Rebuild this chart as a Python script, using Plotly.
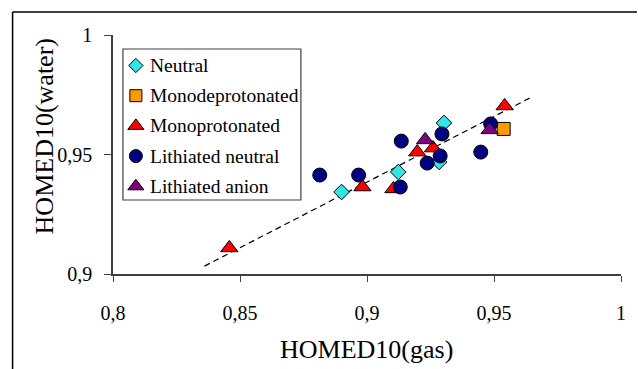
import plotly.graph_objects as go

# HOMED10 aromaticity index: gas phase (x) vs water (y)
neutral_x = [0.8900, 0.9123, 0.9303, 0.9284]
neutral_y = [0.9343, 0.9427, 0.9632, 0.9469]

monodeprot_x = [0.9538]
monodeprot_y = [0.9607]

monoprot_x = [0.8458, 0.8982, 0.9104, 0.9198, 0.9260, 0.9542]
monoprot_y = [0.9109, 0.9364, 0.9356, 0.9510, 0.9527, 0.9703]

li_neutral_x = [0.8814, 0.8967, 0.9135, 0.9131, 0.9295, 0.9237, 0.9288, 0.9448, 0.9487]
li_neutral_y = [0.9414, 0.9414, 0.9556, 0.9364, 0.9586, 0.9464, 0.9494, 0.9510, 0.9628]

li_anion_x = [0.9229, 0.9483]
li_anion_y = [0.9561, 0.9603]

# linear trend line end points
trend_x = [0.836, 0.964]
trend_y = [0.9033, 0.9736]

x_ticks = [0.8, 0.85, 0.9, 0.95, 1.0]
x_tick_text = ["0,8", "0,85", "0,9", "0,95", "1"]
y_ticks = [0.9, 0.95, 1.0]
y_tick_text = ["0,9", "0,95", "1"]

FONT = '"Liberation Serif", "Times New Roman", serif'
OUTLINE = dict(color="black", width=1)
AXIS_COLOR = "#404040"

series = [
    ("Neutral", neutral_x, neutral_y, "diamond", "#33e6e6", 12),
    ("Monodeprotonated", monodeprot_x, monodeprot_y, "square", "#ff9900", 13),
    ("Monoprotonated", monoprot_x, monoprot_y, "triangle-up", "#ff0000", 15),
    ("Lithiated neutral", li_neutral_x, li_neutral_y, "circle", "#000080", 14),
    ("Lithiated anion", li_anion_x, li_anion_y, "triangle-up", "#800080", 15),
]

# page geometry (pixels)
W, H = 638, 369
L, R, T, B = 113, 14, 35, 95
pw, ph = W - L - R, H - T - B


def px_x(p):
    return (p - L) / pw


def px_y(p):
    return (H - B - p) / ph


fig = go.Figure()

fig.add_trace(go.Scatter(
    x=trend_x, y=trend_y, mode="lines", showlegend=False,
    line=dict(color="black", width=1.2, dash="6px,4px"), hoverinfo="skip"))

for name, xs, ys, sym, col, size in series:
    fig.add_trace(go.Scatter(
        x=xs, y=ys, mode="markers", name=name, showlegend=False,
        marker=dict(symbol=sym, color=col, size=size, opacity=1,
                    line=OUTLINE)))

# boxed key in the upper-left corner of the plot area, laid out on a
# hidden pixel-unit overlay axis so the swatches sit beside their labels
KEY_LEFT, KEY_TOP, KEY_RIGHT, KEY_BOTTOM = 123, 49, 302, 200
KEY_ROW0, KEY_STEP = 65.5, 30.2
KEY_SWATCH_DX, KEY_TEXT_DX = 13, 25

key_rows = [KEY_ROW0 + i * KEY_STEP for i in range(len(series))]
fig.add_trace(go.Scatter(
    x=[KEY_LEFT + KEY_SWATCH_DX] * len(series), y=key_rows,
    xaxis="x2", yaxis="y2", mode="markers", showlegend=False,
    hoverinfo="skip",
    marker=dict(symbol=[s[3] for s in series], color=[s[4] for s in series],
                size=[s[5] - 1 for s in series], opacity=1, line=OUTLINE)))

annotations = [
    dict(text=name, x=px_x(KEY_LEFT + KEY_TEXT_DX), y=px_y(row),
         xref="paper", yref="paper", showarrow=False, xanchor="left",
         yanchor="middle", font=dict(family=FONT, size=19.5))
    for (name, *_), row in zip(series, key_rows)
]
annotations += [
    dict(text="HOMED10(gas)", x=px_x(368), y=px_y(349), xref="paper",
         yref="paper", showarrow=False, xanchor="center",
         yanchor="middle", font=dict(family=FONT, size=26)),
    dict(text="HOMED10(water)", x=px_x(44), y=px_y(136), xref="paper",
         yref="paper", showarrow=False, textangle=-90, xanchor="center",
         yanchor="middle", font=dict(family=FONT, size=26)),
]

axis_common = dict(
    showgrid=False, zeroline=False, showline=True, linecolor=AXIS_COLOR,
    linewidth=1.5, ticks="outside", tickcolor=AXIS_COLOR, tickwidth=1.2,
    tickfont=dict(family=FONT, size=20, color="black"))

fig.update_layout(
    width=W, height=H,
    margin=dict(l=L, r=R, t=T, b=B, pad=0),
    paper_bgcolor="white", plot_bgcolor="white",
    font=dict(family=FONT, color="black"),
    showlegend=False,
    xaxis=dict(range=[0.8, 1.0], tickvals=x_ticks, ticktext=x_tick_text,
               ticklen=6, ticklabelstandoff=14, **axis_common),
    yaxis=dict(range=[0.9, 1.0], tickvals=y_ticks, ticktext=y_tick_text,
               ticklen=7, ticklabelstandoff=8, **axis_common),
    xaxis2=dict(overlaying="x", range=[L, W - R], visible=False),
    yaxis2=dict(overlaying="y", range=[H - B, T], visible=False),
    annotations=annotations,
    shapes=[
        dict(type="rect", xref="paper", yref="paper",
             x0=px_x(KEY_LEFT), x1=px_x(KEY_RIGHT),
             y0=px_y(KEY_TOP), y1=px_y(KEY_BOTTOM),
             line=dict(color=AXIS_COLOR, width=1.2), fillcolor="white",
             layer="below"),
        dict(type="line", xref="paper", yref="paper", x0=px_x(12), x1=px_x(12),
             y0=px_y(12), y1=px_y(372), line=dict(color="black", width=1.5)),
        dict(type="line", xref="paper", yref="paper", x0=px_x(12), x1=px_x(640),
             y0=px_y(12), y1=px_y(12), line=dict(color="black", width=1.5)),
    ],
)

fig.write_html("out.html")
